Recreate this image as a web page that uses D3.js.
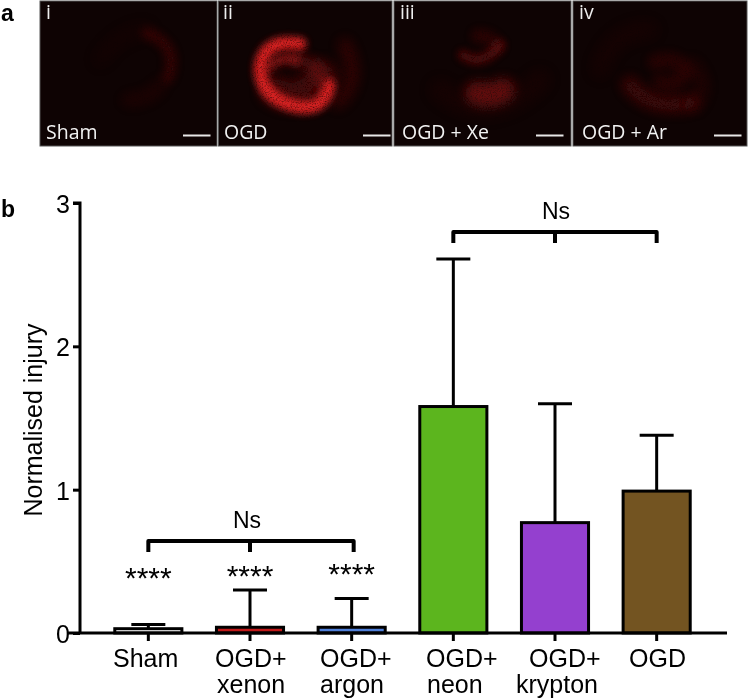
<!DOCTYPE html>
<html><head><meta charset="utf-8">
<script src="https://cdnjs.cloudflare.com/ajax/libs/d3/7.8.5/d3.min.js"></script>
<style>html,body{margin:0;padding:0;background:#fff}svg{display:block}</style>
</head><body><svg id="c" width="748" height="700"></svg>
<script>
const categories=[["Sham"],["OGD+","xenon"],["OGD+","argon"],["OGD+","neon"],["OGD+","krypton"],["OGD"]];
const labelStarts=[[113],[215,217],[320,320],[426,427],[529,516],[629]];
const means=[0.03,0.04,0.04,1.58,0.77,0.99];
const errorTops=[0.06,0.30,0.24,2.61,1.60,1.38];
const barColors=["#ffffff","#c01a1a","#4f7fd8","#5cb51e","#9440cf","#735421"];
const yTicks=[0,1,2,3];
const starRows=[[0,"****",587.5],[1,"****",585.5],[2,"****",584]];
const panelBoxes=[[40,217],[218.5,392],[394,571],[573,747]];
const panelNumerals=["i","ii","iii","iv"];
const numeralStarts=[46,223,400,579];
const panelNames=["Sham","OGD","OGD + Xe","OGD + Ar"];
const nameStarts=[46,224,402,582];
const scaleBarStarts=[183,363,536,714];
// micrograph glow: [path, colour, width, opacity, blur]
const glows=[
 ["M128 100 Q150 100 160 85","#a01818",14,.1,6],
 ["M147 33 Q180 45 168 78","#a01818",11,.26,4],
 ["M100 60 Q120 30 147 30","#901515",16,.05,8],
 ["M275 90 Q300 105 322 75","#901515",30,.4,6],
 ["M345 45 Q362 80 338 102","#a01818",14,.24,6],
 ["M300 44 Q262 38 260 70 Q262 100 300 107 Q325 110 329 85","#e52222",13,.95,3.5],
 ["M267 68 Q280 55 296 60","#c01c1c",11,.6,3.5],
 ["M296 60 Q320 62 320 80","#901515",14,.4,5],
 ["M463 55 Q482 68 500 45","#a01818",11,.4,3.5],
 ["M478 36 Q492 36 497 47","#901515",14,.22,4],
 ["M477 93 Q490 98 503 90","#b01c1c",24,.5,5.5],
 ["M440 90 Q490 130 540 80","#901515",22,.07,8],
 ["M630 85 Q650 110 690 103","#a01818",18,.3,5.5],
 ["M655 62 Q680 55 685 72 Q678 88 660 82","#a01818",15,.18,5],
 ["M600 70 Q610 30 650 30","#901515",18,.07,8],
 ["M692 65 Q710 85 695 105","#901515",14,.14,6]
];
const svg=d3.select("#c");
const defs=svg.append("defs");
const sans="'Liberation Sans',Arial,sans-serif", human="'Open Sans',sans-serif";

defs.append("filter").attr("id","spk").attr("filterUnits","userSpaceOnUse").attr("x",0).attr("y",0).attr("width",748).attr("height",150)
 .call(f=>{
  f.append("feTurbulence").attr("type","fractalNoise").attr("baseFrequency",.8).attr("numOctaves",2).attr("seed",4).attr("result","n");
  f.append("feColorMatrix").attr("in","n").attr("type","matrix").attr("values","0 0 0 0 0 0 0 0 0 0 0 0 0 0 0 1.5 0 0 0 .2").attr("result","a");
  f.append("feComposite").attr("in","SourceGraphic").attr("in2","a").attr("operator","in");
 });
[3.5,4,5,5.5,6,8].forEach(b=>defs.append("filter").attr("id","b"+String(b).replace(".","_"))
 .attr("filterUnits","userSpaceOnUse").attr("x",0).attr("y",0).attr("width",748).attr("height",150)
 .append("feGaussianBlur").attr("stdDeviation",b));

// panel a
const panelTop=1,panelBot=146;
panelBoxes.forEach((p,i)=>{
 defs.append("clipPath").attr("id","cp"+i).append("rect").attr("x",p[0]).attr("y",panelTop).attr("width",p[1]-p[0]).attr("height",panelBot-panelTop);
 svg.append("rect").attr("x",p[0]).attr("y",panelTop).attr("width",p[1]-p[0]).attr("height",panelBot-panelTop)
  .attr("fill","#0e0303").attr("stroke","#555").attr("stroke-width",1);
});
const glowLayer=svg.append("g").attr("filter","url(#spk)");
glows.forEach(g=>{
 const sx=+g[0].slice(1).split(" ")[0];
 const box=panelBoxes.findIndex(p=>sx>=p[0]&&sx<p[1]);
 glowLayer.append("g").attr("clip-path",`url(#cp${box})`).append("path").attr("d",g[0]).attr("fill","none")
  .attr("stroke",g[1]).attr("stroke-width",g[2]).attr("stroke-linecap","round").attr("opacity",g[3])
  .attr("filter",`url(#b${String(g[4]).replace(".","_")})`);
});
panelBoxes.forEach((p,i)=>{
 svg.append("text").attr("x",numeralStarts[i]).attr("y",19).text(panelNumerals[i]).attr("fill","#eee").attr("font-family",human).attr("font-size",19.5);
 svg.append("text").attr("x",nameStarts[i]).attr("y",139).text(panelNames[i]).attr("fill","#f2f2f2").attr("font-family",human).attr("font-size",19.5);
 svg.append("line").attr("x1",scaleBarStarts[i]).attr("x2",scaleBarStarts[i]+27.5).attr("y1",135.5).attr("y2",135.5).attr("stroke","#e8e8e8").attr("stroke-width",2);
});
svg.append("text").attr("x",1).attr("y",20.5).text("a").attr("font-family",sans).attr("font-weight",700).attr("font-size",23);
svg.append("text").attr("x",1).attr("y",217).text("b").attr("font-family",sans).attr("font-weight",700).attr("font-size",23);

// panel b
const y=d3.scaleLinear().domain([0,3]).range([633,203]);
const x=d3.scaleBand().domain(d3.range(categories.length)).range([97.5,707.5]).paddingInner(.34).paddingOuter(.17);
const bw=x.bandwidth(), cx=i=>x(i)+bw/2;
const g=svg.append("g");
means.forEach((m,i)=>{
 g.append("line").attr("x1",cx(i)).attr("x2",cx(i)).attr("y1",y(m)).attr("y2",y(errorTops[i])).attr("stroke","#000").attr("stroke-width",3);
 g.append("line").attr("x1",cx(i)-17).attr("x2",cx(i)+17).attr("y1",y(errorTops[i])).attr("y2",y(errorTops[i])).attr("stroke","#000").attr("stroke-width",3);
 g.append("rect").attr("x",x(i)).attr("width",bw).attr("y",y(m)).attr("height",y(0)-y(m))
  .attr("fill",barColors[i]).attr("stroke","#000").attr("stroke-width",3);
});
const ya=svg.append("g").attr("transform","translate(80,0)").call(d3.axisLeft(y).tickValues(yTicks).tickSize(7).tickPadding(3).tickFormat(d3.format("d")));
const xa=svg.append("g").attr("transform","translate(0,633)").call(d3.axisBottom(x).tickSize(8).tickFormat(""));
ya.select(".domain").attr("d","M-7,203H0V633").attr("stroke-width",3);
xa.select(".domain").attr("d","M68,0H727").attr("stroke-width",3);
ya.selectAll("line").attr("stroke-width",3);
xa.selectAll("line").attr("stroke-width",3);
ya.selectAll("text").attr("font-family",sans).attr("font-size",25).attr("fill","#000").attr("dy","0.38em");
categories.forEach((c,i)=>c.forEach((t,j)=>{
 svg.append("text").attr("x",labelStarts[i][j]).attr("y",667+j*26).text(t)
  .attr("font-family",sans).attr("font-size",25);
}));
svg.append("text").attr("transform","translate(42,420) rotate(-90)").attr("text-anchor","middle").text("Normalised injury")
 .attr("font-family",sans).attr("font-size",25);
starRows.forEach(r=>svg.append("text").attr("x",cx(r[0])).attr("y",r[2]).attr("text-anchor","middle").text(r[1])
 .attr("font-family",sans).attr("font-size",30));
function bracket(a,b,ty,label,endShift,labelShift){
 const mid=(a+b)/2;
 const xs=[cx(a),cx(mid),cx(b)+endShift];
 svg.append("path").attr("d",`M${xs[0]},${ty+11}V${ty}H${xs[2]}V${ty+11}M${xs[1]},${ty}V${ty+11}`).attr("fill","none").attr("stroke","#000").attr("stroke-width",4).attr("stroke-linejoin","round");
 svg.append("text").attr("x",xs[1]+labelShift).attr("y",ty-13).attr("text-anchor","middle").text(label).attr("font-family",sans).attr("font-size",23);
}
bracket(0,2,541,"Ns",2,-3);
bracket(3,5,232,"Ns",0,1);
</script></body></html>
